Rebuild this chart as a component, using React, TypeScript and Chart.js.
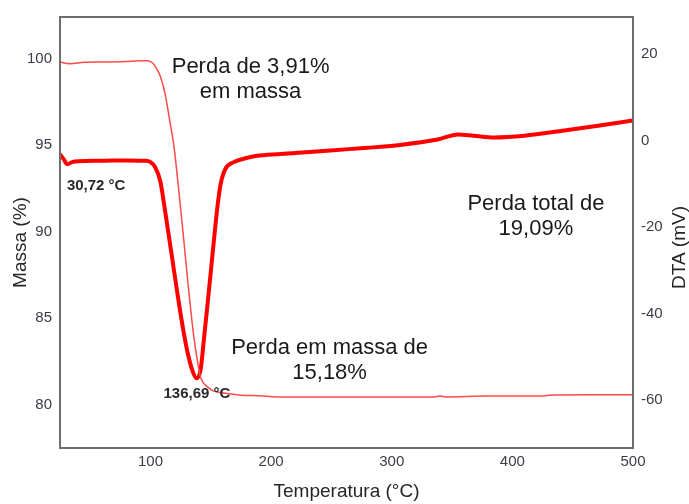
import React, { useEffect, useRef } from "react";
import { Chart, registerables } from "chart.js";

Chart.register(...registerables);

// TG curve (mass %, left axis)
const tgTemp = [25, 33, 45, 60, 80, 90, 97, 100, 103, 108, 112, 116, 119.5, 123.3, 127.5, 131.7, 135.8, 139, 141.5, 144, 147, 152, 158, 175, 190, 205, 250, 300, 335, 340, 345, 380, 424, 430, 470, 500];
const tgMass = [99.8, 99.7, 99.78, 99.8, 99.83, 99.87, 99.87, 99.82, 99.65, 99.0, 98.0, 96.4, 94.9, 92.5, 89.6, 86.6, 84.0, 82.5, 81.6, 81.25, 81.05, 80.8, 80.7, 80.55, 80.52, 80.45, 80.45, 80.45, 80.45, 80.5, 80.45, 80.5, 80.5, 80.55, 80.57, 80.58];

// DTA curve (mV, right axis)
const dtaTemp = [25, 28, 31, 35, 40, 60, 80, 95, 100, 104, 108.3, 111, 113.8, 118, 122, 126.3, 130.4, 134.6, 138, 141.5, 144.2, 147, 149.8, 152.5, 155.3, 158, 162, 169, 175, 185, 194, 220, 249, 280, 305, 338, 355, 368, 385, 410, 443, 471, 500];
const dtaSignal = [-3.2, -4.3, -5.5, -5.0, -4.8, -4.7, -4.6, -4.7, -5.0, -6.2, -9.6, -14.2, -19.4, -27.2, -34.7, -42.3, -48.5, -53, -54.9, -53, -46.2, -38.6, -30.9, -23.3, -15.8, -10.3, -6.6, -5.0, -4.4, -3.7, -3.4, -2.9, -2.3, -1.7, -1.1, 0.2, 1.4, 1.1, 0.7, 1.1, 2.3, 3.4, 4.6];

// Axis ticks
const xTicks = [100, 200, 300, 400, 500];
const massTicks = [80, 85, 90, 95, 100];
const dtaTicks = [-60, -40, -20, 0, 20];

// Annotations: text lines, temperature, mass (first baseline), align, bold
const noteLines = [
  ["Perda de 3,91%", "em massa"],
  ["Perda total de", "19,09%"],
  ["Perda em massa de", "15,18%"],
  ["30,72 °C"],
  ["136,69 °C"],
];
const noteTemp = [183, 419.5, 248.5, 30.72, 110.8];
const noteMass = [99.14, 91.23, 82.91, 92.43, 80.41];
const noteAlign = ["center", "center", "center", "left", "left"];
const noteBold = [false, false, false, true, true];

const FONT = "'Liberation Sans', Arial, sans-serif";

const overlayPlugin = {
  id: "overlay",
  afterDatasetsDraw(chart: any) {
    const { ctx, chartArea, scales } = chart;
    ctx.save();
    // frame
    ctx.strokeStyle = "#6e6e6e";
    ctx.lineWidth = 2;
    ctx.strokeRect(chartArea.left, chartArea.top, chartArea.right - chartArea.left, chartArea.bottom - chartArea.top);

    // annotations
    for (let i = 0; i < noteLines.length; i++) {
      const x = scales.x.getPixelForValue(noteTemp[i]);
      const y = scales.y.getPixelForValue(noteMass[i]);
      ctx.textAlign = noteAlign[i] as CanvasTextAlign;
      ctx.textBaseline = "alphabetic";
      if (noteBold[i]) {
        ctx.font = `bold 15px ${FONT}`;
        ctx.fillStyle = "#2a2a2a";
      } else {
        ctx.font = `22px ${FONT}`;
        ctx.fillStyle = "#1a1a1a";
      }
      noteLines[i].forEach((line, j) => ctx.fillText(line, x, y + j * 25));
    }

    // axis titles
    ctx.fillStyle = "#262626";
    ctx.font = `19px ${FONT}`;
    ctx.textAlign = "center";
    ctx.textBaseline = "middle";
    const cx = (chartArea.left + chartArea.right) / 2;
    ctx.fillText("Temperatura (°C)", cx, 492);

    const cy = (chartArea.top + chartArea.bottom) / 2 + 10;
    ctx.save();
    ctx.translate(21, cy);
    ctx.rotate(-Math.PI / 2);
    ctx.fillText("Massa (%)", 0, 0);
    ctx.restore();

    ctx.save();
    ctx.translate(680, cy + 5);
    ctx.rotate(-Math.PI / 2);
    ctx.fillText("DTA (mV)", 0, 0);
    ctx.restore();

    ctx.restore();
  },
};

export default function App() {
  const ref = useRef<HTMLCanvasElement | null>(null);

  useEffect(() => {
    if (!ref.current) return;
    const tickFont = { family: FONT, size: 15 };
    const tickColor = "#3c3c48";
    const chart = new Chart(ref.current, {
      type: "line",
      data: {
        datasets: [
          {
            label: "TG",
            data: tgTemp.map((t, i) => ({ x: t, y: tgMass[i] })),
            yAxisID: "y",
            borderColor: "#ff4a4a",
            borderWidth: 1.5,
            pointRadius: 0,
            cubicInterpolationMode: "monotone",
            fill: false,
          },
          {
            label: "DTA",
            data: dtaTemp.map((t, i) => ({ x: t, y: dtaSignal[i] })),
            yAxisID: "y1",
            borderColor: "#ff0000",
            borderWidth: 4,
            pointRadius: 0,
            cubicInterpolationMode: "monotone",
            fill: false,
          },
        ],
      },
      options: {
        animation: false,
        responsive: false,
        maintainAspectRatio: false,
        layout: { padding: { top: 13, left: 0, right: 0, bottom: 0 } },
        plugins: { legend: { display: false }, tooltip: { enabled: false } },
        scales: {
          x: {
            type: "linear",
            min: 25,
            max: 500,
            grid: { display: false, drawTicks: false },
            border: { display: false },
            afterBuildTicks: (s: any) => { s.ticks = xTicks.map((v) => ({ value: v })); },
            afterFit: (s: any) => { s.height = 56; },
            ticks: { font: tickFont, color: tickColor, padding: 5, maxRotation: 0 },
          },
          y: {
            type: "linear",
            position: "left",
            min: 77.5,
            max: 102.4,
            grid: { display: false, drawTicks: false },
            border: { display: false },
            afterBuildTicks: (s: any) => { s.ticks = massTicks.map((v) => ({ value: v })); },
            afterFit: (s: any) => { s.width = 60; },
            ticks: { font: tickFont, color: tickColor, padding: 8 },
          },
          y1: {
            type: "linear",
            position: "right",
            min: -71,
            max: 28.5,
            grid: { display: false, drawTicks: false },
            border: { display: false },
            afterBuildTicks: (s: any) => { s.ticks = dtaTicks.map((v) => ({ value: v })); },
            afterFit: (s: any) => { s.width = 56; },
            ticks: { font: tickFont, color: tickColor, padding: 8 },
          },
        },
      },
      plugins: [overlayPlugin],
    } as any);
    return () => chart.destroy();
  }, []);

  return (
    <div style={{ position: "fixed", left: 0, top: 0, width: 689, height: 504, background: "#fff" }}>
      <canvas ref={ref} width={689} height={504} style={{ width: 689, height: 504 }} />
    </div>
  );
}
